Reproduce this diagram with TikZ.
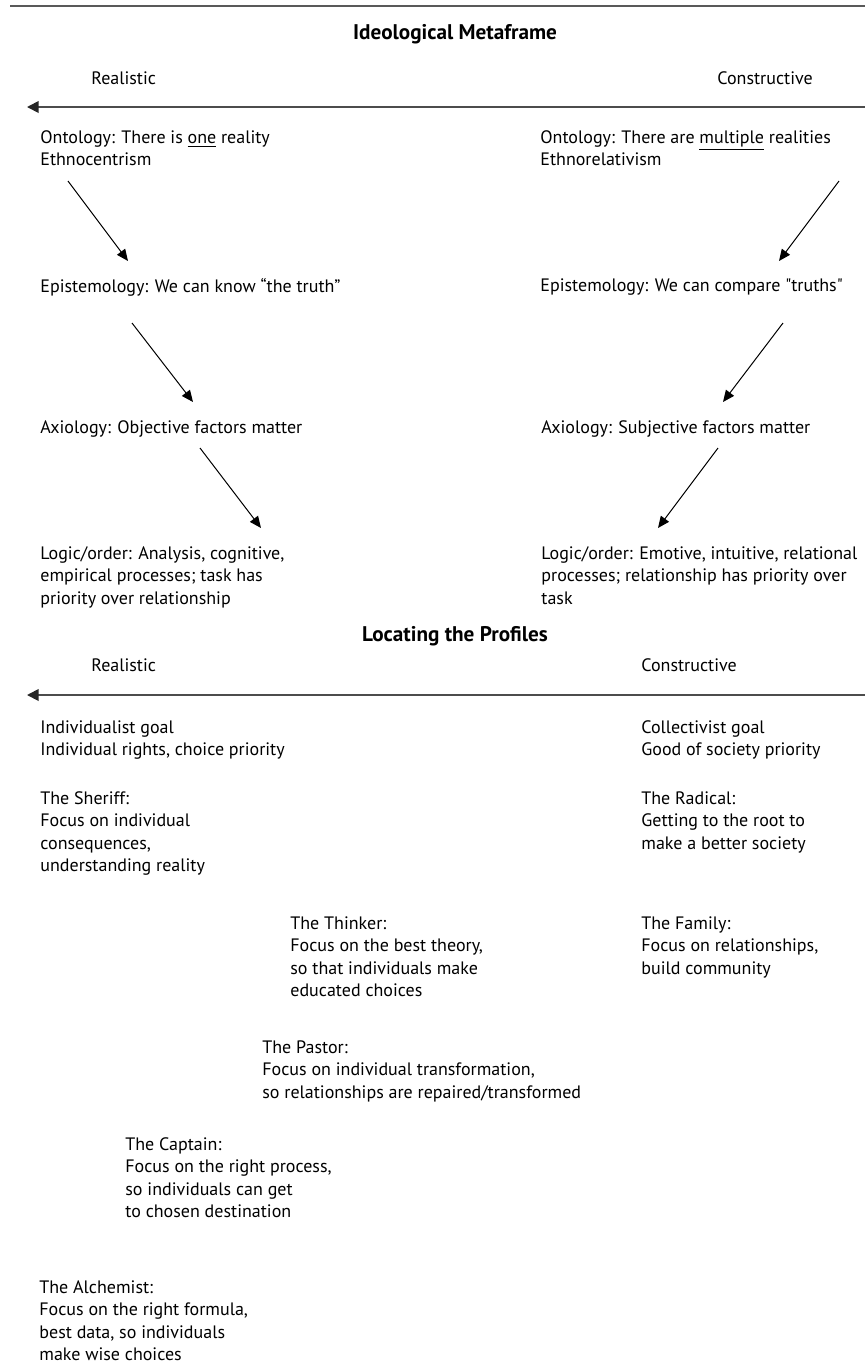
\documentclass[tikz,border=0pt]{standalone}
\usepackage{fontspec}
\setmainfont{PT Sans}[Ligatures=TeXOff]
\usepackage{tikz}
\usetikzlibrary{arrows.meta,positioning}

\begin{document}
\begin{tikzpicture}[x=0.5pt, y=-0.5pt, font=\fontsize{9}{11.25}\selectfont,
  txt/.style={anchor=north west, inner sep=0pt, align=left},
  lbl/.style={anchor=west, inner sep=0pt},
  head/.style={font=\fontsize{10.6}{12}\selectfont\bfseries, inner sep=0pt},
  axis/.style={{Triangle[length=5.8pt,width=5.8pt,color=black!85]}-, line width=0.9pt, draw=black!70},
  flow/.style={-{Triangle[length=5.8pt,width=5pt]}, line width=0.5pt}]
\useasboundingbox (0,0) rectangle (865,1372);
\draw[line width=1.2pt, black!65] (10,6) -- (865,6);

% ideological metaframe
\node[head] (meta) at (455,34) {Ideological Metaframe};
\node[lbl] (realA) at (91,78) {Realistic};
\node[lbl] (consA) at (717,78) {Constructive};
\coordinate (axA-l) at (27,107);
\coordinate (axA-r) at (865,107);
\draw[axis] (axA-l) -- (axA-r);

\node[txt] (ontL) at (40,130) {Ontology: There is \underline{one} reality\\Ethnocentrism};
\node[txt] (ontR) at (540,130) {Ontology: There are \underline{multiple} realities\\Ethnorelativism};
\node[txt] (epiL) at (40,278) {Epistemology: We can know “the truth”};
\node[txt] (epiR) at (540,278) {Epistemology: We can compare "truths"};
\node[txt] (axiL) at (40,420) {Axiology: Objective factors matter};
\node[txt] (axiR) at (541,420) {Axiology: Subjective factors matter};
\node[txt] (logL) at (40,546) {Logic/order: Analysis, cognitive,\\empirical processes; task has\\priority over relationship};
\node[txt] (logR) at (541,546) {Logic/order: Emotive, intuitive, relational\\processes; relationship has priority over\\task};

% arrow ends between the levels
\coordinate (l1a) at (68,181);  \coordinate (l1b) at (128,261);
\coordinate (l2a) at (132,323); \coordinate (l2b) at (193,402);
\coordinate (l3a) at (200,448); \coordinate (l3b) at (261,528);
\coordinate (r1a) at (839,181); \coordinate (r1b) at (779,261);
\coordinate (r2a) at (783,323); \coordinate (r2b) at (723,402);
\coordinate (r3a) at (718,448); \coordinate (r3b) at (658,528);
\draw[flow] (l1a) -- (l1b);
\draw[flow] (l2a) -- (l2b);
\draw[flow] (l3a) -- (l3b);
\draw[flow] (r1a) -- (r1b);
\draw[flow] (r2a) -- (r2b);
\draw[flow] (r3a) -- (r3b);

% locating the profiles
\node[head] (prof) at (455,636) {Locating the Profiles};
\node[lbl] (realB) at (91,665) {Realistic};
\node[lbl] (consB) at (641,665) {Constructive};
\coordinate (axB-l) at (27,695);
\coordinate (axB-r) at (865,695);
\draw[axis] (axB-l) -- (axB-r);

\node[txt] (indiv) at (40,720) {Individualist goal\\Individual rights, choice priority};
\node[txt] (coll) at (641,720) {Collectivist goal\\Good of society priority};
\node[txt] (sheriff) at (40,791) {The Sheriff:\\Focus on individual\\consequences,\\understanding reality};
\node[txt] (radical) at (641,791) {The Radical:\\Getting to the root to\\make a better society};
\node[txt] (thinker) at (290,916) {The Thinker:\\Focus on the best theory,\\so that individuals make\\educated choices};
\node[txt] (family) at (641,916) {The Family:\\Focus on relationships,\\build community};
\node[txt] (pastor) at (262,1040) {The Pastor:\\Focus on individual transformation,\\so relationships are repaired/transformed};
\node[txt] (captain) at (125,1137) {The Captain:\\Focus on the right process,\\so individuals can get\\to chosen destination};
\node[txt] (alchem) at (39,1280) {The Alchemist:\\Focus on the right formula,\\best data, so individuals\\make wise choices};
\end{tikzpicture}
\end{document}
